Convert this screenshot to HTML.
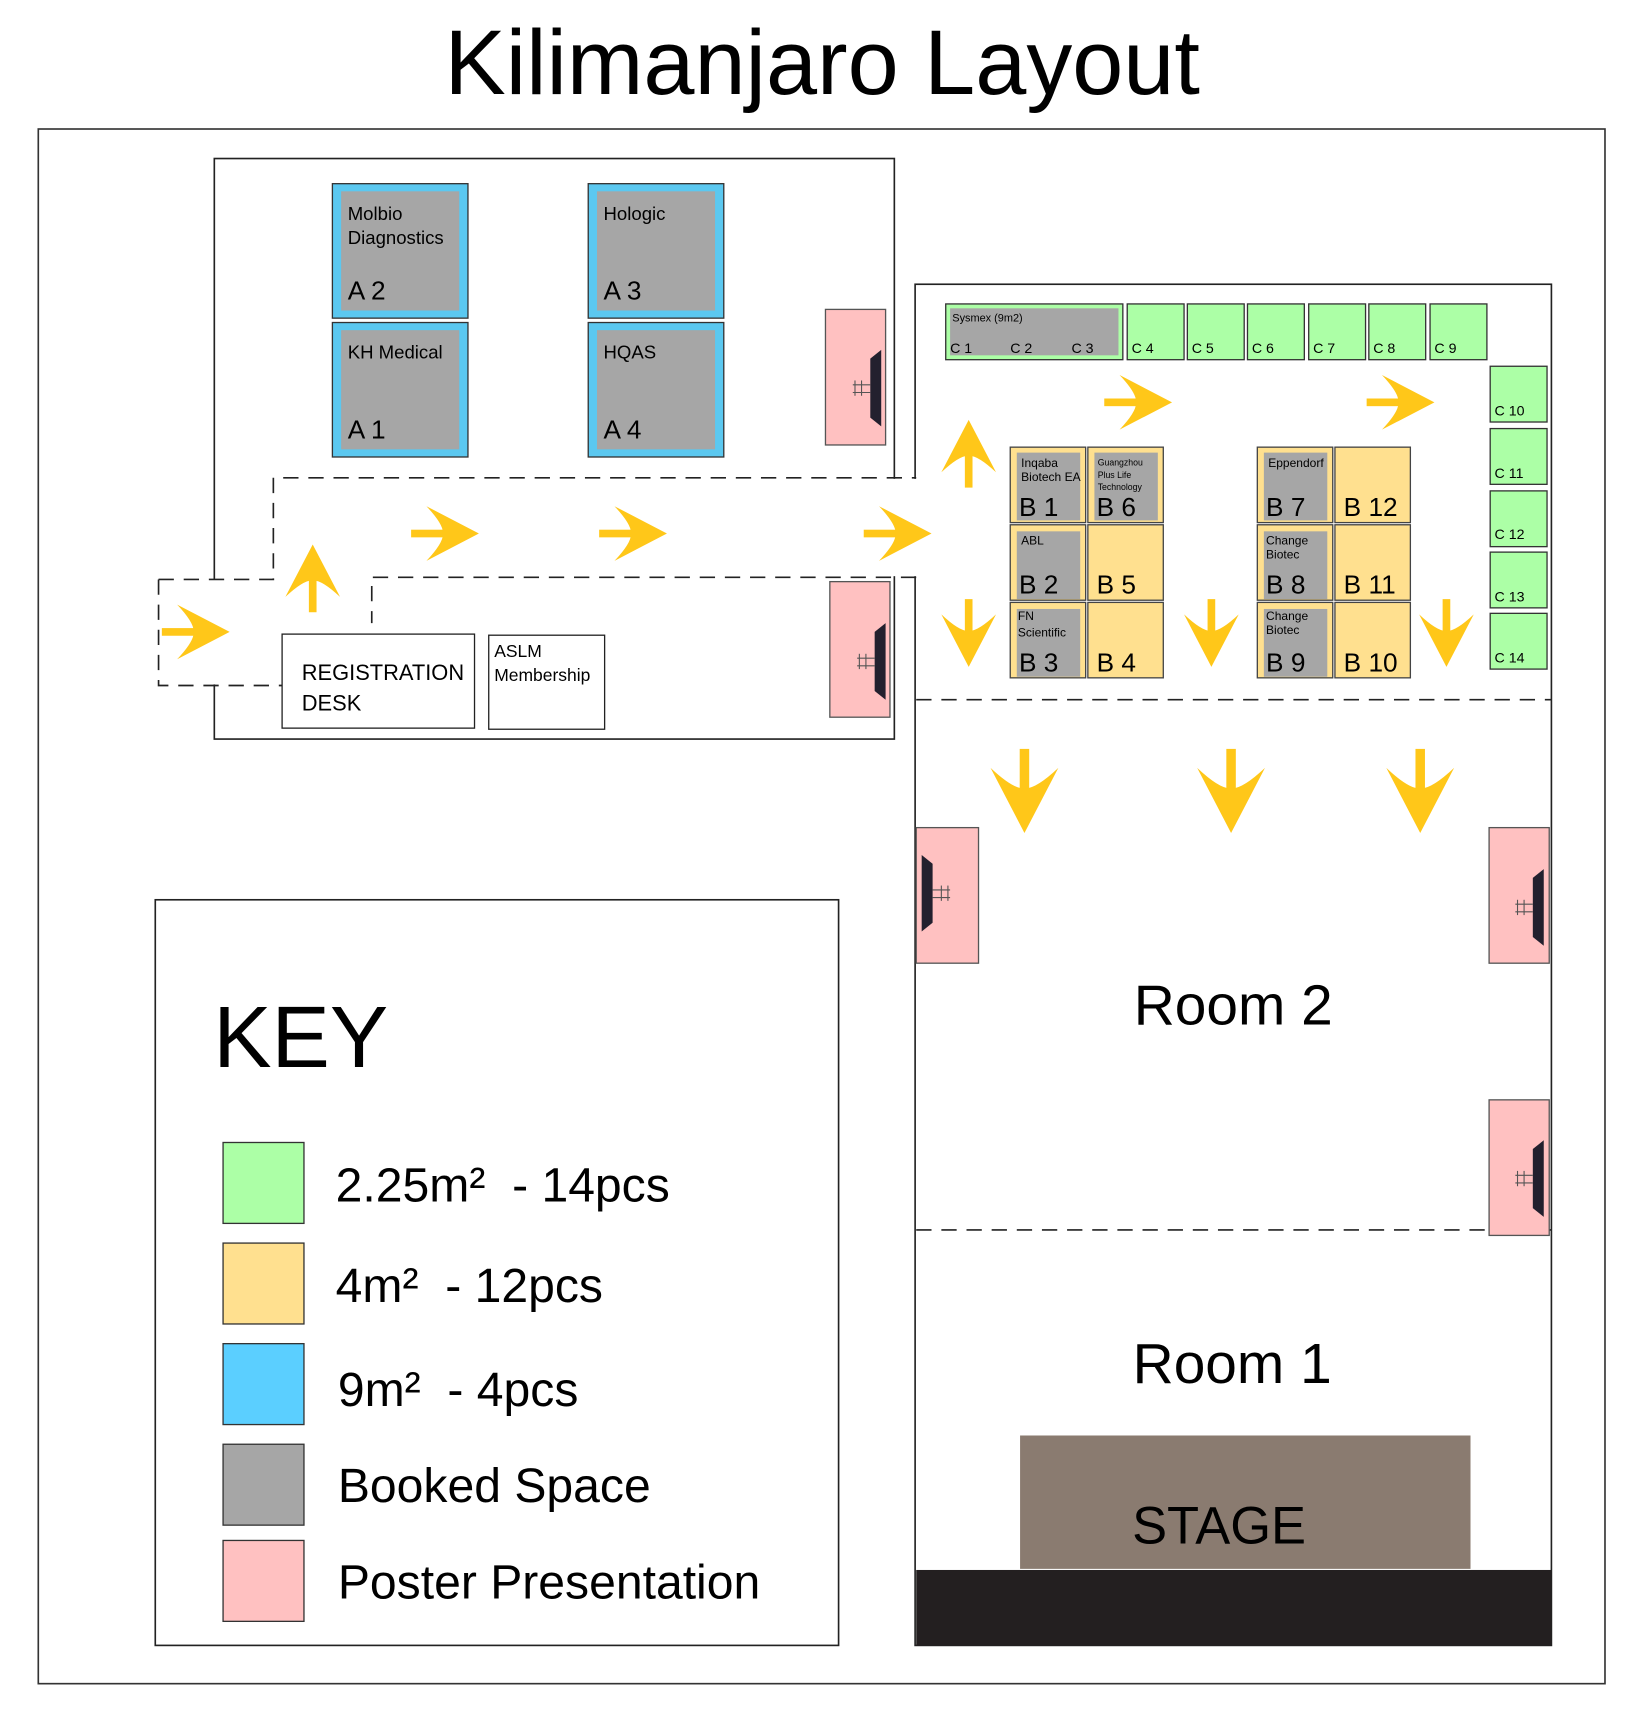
<!DOCTYPE html>
<html><head><meta charset="utf-8"><style>
html,body{margin:0;padding:0;background:#fff;}
svg{display:block;}
text{font-family:"Liberation Sans",sans-serif;fill:#000;}
</style></head><body>
<svg width="1640" height="1711" viewBox="0 0 1500 1565" xmlns="http://www.w3.org/2000/svg">
<defs>
<g id="ar"><rect x="0" y="-3.5" width="32" height="7" fill="#FFC719"/><path d="M62,0 L14,-25 Q30,-8 29,0 Q30,8 14,25 Z" fill="#FFC719"/></g>
<g id="scr"><polygon points="0,0 10,-8 10,62 0,54" fill="#23202e"/><line x1="-14" y1="20" x2="-14" y2="34" stroke="#555" stroke-width="1"/><line x1="-8" y1="20" x2="-8" y2="34" stroke="#555" stroke-width="1"/><line x1="-16" y1="24" x2="0" y2="24" stroke="#555" stroke-width="1"/><line x1="-16" y1="31" x2="0" y2="31" stroke="#555" stroke-width="1"/></g>
</defs>
<text x="752" y="86" font-size="84" text-anchor="middle">Kilimanjaro Layout</text>
<rect x="35" y="118" width="1433" height="1422" fill="none" stroke="#333" stroke-width="1.5"/>
<rect x="196" y="145" width="622" height="531" fill="none" stroke="#222" stroke-width="1.5"/>
<rect x="837" y="260" width="582" height="1245" fill="#fff" stroke="#222" stroke-width="1.5"/>
<rect x="190" y="530" width="12" height="96" fill="#fff"/>
<rect x="812" y="438" width="30" height="89" fill="#fff"/>
<g fill="none" stroke="#222" stroke-width="1.5" stroke-dasharray="14,9">
<path d="M145,530 H250 V437 H838"/>
<path d="M838,528 H340 V570"/>
<path d="M145,530 V627 H258"/>
<line x1="838" y1="640" x2="1419" y2="640"/>
<line x1="838" y1="1125" x2="1419" y2="1125"/>
</g>
<g stroke="#333" stroke-width="1.2">
<rect x="304" y="168" width="124" height="123" fill="#5BC8F0"/>
<rect x="304" y="295" width="124" height="123" fill="#5BC8F0"/>
<rect x="538" y="168" width="124" height="123" fill="#5BC8F0"/>
<rect x="538" y="295" width="124" height="123" fill="#5BC8F0"/>
</g>
<g fill="#a6a6a6">
<rect x="312" y="175" width="108" height="109"/><rect x="312" y="302" width="108" height="109"/>
<rect x="546" y="175" width="108" height="109"/><rect x="546" y="302" width="108" height="109"/>
</g>
<text x="318" y="201" font-size="17">Molbio</text><text x="318" y="223" font-size="17">Diagnostics</text>
<text x="318" y="274" font-size="24">A 2</text>
<text x="318" y="328" font-size="17">KH Medical</text><text x="318" y="401" font-size="24">A 1</text>
<text x="552" y="201" font-size="17">Hologic</text><text x="552" y="274" font-size="24">A 3</text>
<text x="552" y="328" font-size="17">HQAS</text><text x="552" y="401" font-size="24">A 4</text>
<rect x="258" y="580" width="176" height="86" fill="#fff" stroke="#222" stroke-width="1.2"/>
<text x="276" y="622" font-size="20">REGISTRATION</text><text x="276" y="650" font-size="20">DESK</text>
<rect x="447" y="581" width="106" height="86" fill="#fff" stroke="#222" stroke-width="1.2"/>
<text x="452" y="601" font-size="16">ASLM</text><text x="452" y="623" font-size="16">Membership</text>
<g fill="#FFC1C1" stroke="#555" stroke-width="1.2">
<rect x="755" y="283" width="55" height="124"/>
<rect x="759" y="532" width="55" height="124"/>
<rect x="838" y="757" width="57" height="124"/>
<rect x="1362" y="757" width="55" height="124"/>
<rect x="1362" y="1006" width="55" height="124"/>
</g>
<use href="#scr" x="796" y="328"/>
<use href="#scr" x="800" y="578"/>
<use href="#scr" transform="translate(853,790) scale(-1,1)"/>
<use href="#scr" x="1402" y="803"/>
<use href="#scr" x="1402" y="1051"/>
<rect x="865" y="278" width="162" height="51" fill="#ACFFA6" stroke="#333" stroke-width="1.2"/>
<rect x="869" y="282" width="154" height="43" fill="#a6a6a6"/>
<text x="871" y="294" font-size="10">Sysmex (9m2)</text>
<text x="869" y="323" font-size="13">C 1</text><text x="924" y="323" font-size="13">C 2</text><text x="980" y="323" font-size="13">C 3</text>
<g fill="#ACFFA6" stroke="#333" stroke-width="1.2">
<rect x="1031" y="278" width="52" height="51"/><rect x="1086" y="278" width="52" height="51"/>
<rect x="1141" y="278" width="52" height="51"/><rect x="1197" y="278" width="52" height="51"/>
<rect x="1252" y="278" width="52" height="51"/><rect x="1308" y="278" width="52" height="51"/>
<rect x="1363" y="335" width="52" height="51"/><rect x="1363" y="392" width="52" height="51"/>
<rect x="1363" y="449" width="52" height="51"/><rect x="1363" y="505" width="52" height="51"/>
<rect x="1363" y="561" width="52" height="51"/>
</g>
<g font-size="13">
<text x="1035" y="323">C 4</text><text x="1090" y="323">C 5</text><text x="1145" y="323">C 6</text>
<text x="1201" y="323">C 7</text><text x="1256" y="323">C 8</text><text x="1312" y="323">C 9</text>
<text x="1367" y="380">C 10</text><text x="1367" y="437">C 11</text><text x="1367" y="493">C 12</text>
<text x="1367" y="550">C 13</text><text x="1367" y="606">C 14</text>
</g>
<g fill="#FFE08F" stroke="#444" stroke-width="1.2">
<rect x="924" y="409" width="69" height="69"/><rect x="995" y="409" width="69" height="69"/>
<rect x="924" y="480" width="69" height="69"/><rect x="995" y="480" width="69" height="69"/>
<rect x="924" y="551" width="69" height="69"/><rect x="995" y="551" width="69" height="69"/>
<rect x="1150" y="409" width="69" height="69"/><rect x="1221" y="409" width="69" height="69"/>
<rect x="1150" y="480" width="69" height="69"/><rect x="1221" y="480" width="69" height="69"/>
<rect x="1150" y="551" width="69" height="69"/><rect x="1221" y="551" width="69" height="69"/>
</g>
<g fill="#a6a6a6">
<rect x="930" y="414" width="58" height="62"/><rect x="1001" y="414" width="58" height="62"/>
<rect x="930" y="486" width="58" height="62"/><rect x="930" y="557" width="58" height="62"/>
<rect x="1156" y="414" width="58" height="62"/><rect x="1156" y="486" width="58" height="62"/>
<rect x="1156" y="557" width="58" height="62"/>
</g>
<g font-size="11">
<text x="934" y="427">Inqaba</text><text x="934" y="440">Biotech EA</text>
<text x="934" y="498">ABL</text>
<text x="931" y="567">FN</text><text x="931" y="582">Scientific</text>
<text x="1160" y="427">Eppendorf</text>
<text x="1158" y="498">Change</text><text x="1158" y="511">Biotec</text>
<text x="1158" y="567">Change</text><text x="1158" y="580">Biotec</text>
</g>
<g font-size="8"><text x="1004" y="426">Guangzhou</text><text x="1004" y="437">Plus Life</text><text x="1004" y="448">Technology</text></g>
<g font-size="24">
<text x="932" y="472">B 1</text><text x="1003" y="472">B 6</text>
<text x="932" y="543">B 2</text><text x="1003" y="543">B 5</text>
<text x="932" y="614">B 3</text><text x="1003" y="614">B 4</text>
<text x="1158" y="472">B 7</text><text x="1229" y="472">B 12</text>
<text x="1158" y="543">B 8</text><text x="1229" y="543">B 11</text>
<text x="1158" y="614">B 9</text><text x="1229" y="614">B 10</text>
</g>
<use href="#ar" x="148" y="578"/>
<use href="#ar" x="376" y="488"/>
<use href="#ar" x="548" y="488"/>
<use href="#ar" x="790" y="488"/>
<use href="#ar" x="1010" y="368"/>
<use href="#ar" x="1250" y="368"/>
<use href="#ar" transform="translate(286,560) rotate(-90)"/>
<use href="#ar" transform="translate(886,446) rotate(-90)"/>
<use href="#ar" transform="translate(886,548) rotate(90)"/>
<use href="#ar" transform="translate(1108,548) rotate(90)"/>
<use href="#ar" transform="translate(1323,548) rotate(90)"/>
<use href="#ar" transform="translate(937,685) rotate(90) scale(1.24)"/>
<use href="#ar" transform="translate(1126,685) rotate(90) scale(1.24)"/>
<use href="#ar" transform="translate(1299,685) rotate(90) scale(1.24)"/>
<text x="1128" y="937" font-size="52" text-anchor="middle">Room 2</text>
<text x="1127" y="1265" font-size="52" text-anchor="middle">Room 1</text>
<rect x="933" y="1313" width="412" height="122" fill="#8a7b70"/>
<text x="1115" y="1412" font-size="48" text-anchor="middle">STAGE</text>
<rect x="838" y="1436" width="581" height="69" fill="#231f20"/>
<rect x="142" y="823" width="625" height="682" fill="#fff" stroke="#222" stroke-width="1.5"/>
<text x="195" y="976" font-size="80">KEY</text>
<g stroke="#333" stroke-width="1.2">
<rect x="204" y="1045" width="74" height="74" fill="#ACFFA6"/>
<rect x="204" y="1137" width="74" height="74" fill="#FFE08F"/>
<rect x="204" y="1229" width="74" height="74" fill="#5BCFFF"/>
<rect x="204" y="1321" width="74" height="74" fill="#a6a6a6"/>
<rect x="204" y="1409" width="74" height="74" fill="#FFC1C1"/>
</g>
<g font-size="44">
<text x="307" y="1099">2.25m² &#160;- 14pcs</text>
<text x="307" y="1191">4m² &#160;- 12pcs</text>
<text x="309" y="1286">9m² &#160;- 4pcs</text>
<text x="309" y="1374">Booked Space</text>
<text x="309" y="1462">Poster Presentation</text>
</g>
</svg>
</body></html>
